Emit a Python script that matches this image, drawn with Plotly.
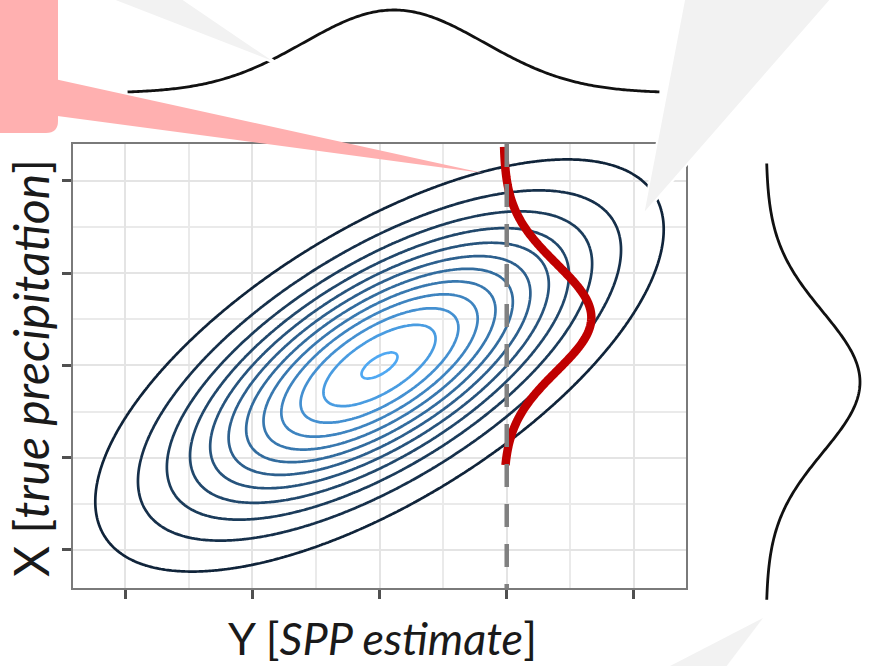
import numpy as np
import plotly.graph_objects as go

W, H = 869, 666

# ---- values ---------------------------------------------------------------
tick_vals = [1, 2, 3, 4, 5]
minor_vals = [1.5, 2.5, 3.5, 4.5]
x_range = [0.591, 5.409]          # Y [SPP estimate]
y_range = [0.588, 5.401]          # X [true precipitation]

# joint density of (Y, X)
mean_y, mean_x = 3.0, 3.0
sd_y, sd_x = 1.0, 1.0
rho = 0.66
level_start, level_step, n_levels = 0.0825, 0.0825, 12   # relative to the peak

# conditional density of X for one observed Y
y_obs = 4.0
cond_base = 3.975
cond_mean, cond_sd, cond_height = 3.52, 0.58, 0.69
cond_lo, cond_hi = 1.92, 5.37

# marginal densities shown beside the panel
top_mean, top_sd, top_lo, top_hi = 3.114, 0.71, 1.02, 5.20
side_mean, side_sd, side_lo, side_hi = 2.82, 0.76, 0.46, 5.19


def gauss(v, m, s):
    return np.exp(-0.5 * ((v - m) / s) ** 2)


def px(x):
    return x / W


def py(y):
    return 1 - y / H


def lin_range(lo_px, hi_px, p0, p1, v0=0.0, v1=1.0):
    """Axis range whose domain spans lo_px..hi_px, with v0 at p0 and v1 at p1."""
    k = (v1 - v0) / (p1 - p0)
    return [v0 + (lo_px - p0) * k, v0 + (hi_px - p0) * k]


fig = go.Figure()

# ---- bivariate density contours -------------------------------------------
gx = np.linspace(x_range[0], x_range[1], 280)
gy = np.linspace(y_range[0], y_range[1], 280)
GX, GY = np.meshgrid(gx, gy)
zy = (GX - mean_y) / sd_y
zx = (GY - mean_x) / sd_x
Q = (zy ** 2 - 2 * rho * zy * zx + zx ** 2) / (1 - rho ** 2)
Z = np.exp(-0.5 * Q)
level_end = level_start + level_step * (n_levels - 1)

fig.add_trace(go.Contour(
    x=gx, y=gy, z=Z,
    autocontour=False,
    contours=dict(start=level_start, end=level_end + 1e-6, size=level_step,
                  coloring="lines"),
    colorscale=[[0, "#10243A"], [1, "#4FA8F2"]],
    zmin=level_start, zmax=level_end,
    line=dict(width=2.7, smoothing=1.2),
    showscale=False, hoverinfo="skip",
))

# ---- conditional density (red) --------------------------------------------
cy = np.linspace(cond_lo, cond_hi, 400)
cx = cond_base + cond_height * gauss(cy, cond_mean, cond_sd)
fig.add_trace(go.Scatter(x=cx, y=cy, mode="lines",
                         line=dict(color="#C00000", width=8.5, simplify=False),
                         hoverinfo="skip", showlegend=False))

# observed Y value
fig.add_trace(go.Scatter(x=[y_obs, y_obs], y=[y_range[1], y_range[0]], mode="lines",
                         line=dict(color="#808080", width=4.5, dash="23px,17px"),
                         hoverinfo="skip", showlegend=False))

# ---- marginal of Y (top) --------------------------------------------------
tx = np.linspace(top_lo, top_hi, 300)
fig.add_trace(go.Scatter(x=tx, y=gauss(tx, top_mean, top_sd), mode="lines",
                         xaxis="x2", yaxis="y2",
                         line=dict(color="#111111", width=2.8, simplify=False),
                         hoverinfo="skip", showlegend=False))

# ---- marginal of X (right) ------------------------------------------------
sy = np.linspace(side_lo, side_hi, 300)
fig.add_trace(go.Scatter(x=gauss(sy, side_mean, side_sd), y=sy, mode="lines",
                         xaxis="x3", yaxis="y3",
                         line=dict(color="#111111", width=2.8, simplify=False),
                         hoverinfo="skip", showlegend=False))

# ---- axes -----------------------------------------------------------------
panel = dict(
    showline=True, mirror=True, linecolor="#7A7A7A", linewidth=2.2,
    ticks="outside", ticklen=9, tickwidth=2.5, tickcolor="#505050",
    tickmode="array", tickvals=tick_vals, showticklabels=False,
    showgrid=True, gridcolor="#E4E4E4", gridwidth=2,
    minor=dict(tickmode="array", tickvals=minor_vals, showgrid=True,
               gridcolor="#EAEAEA", gridwidth=1.8, ticks=""),
    zeroline=False, fixedrange=True,
)
fig.update_layout(
    xaxis=dict(domain=[px(73), px(686)], range=x_range, anchor="y", **panel),
    yaxis=dict(domain=[py(588), py(144)], range=y_range, anchor="x", **panel),
    xaxis2=dict(domain=[px(73), px(686)], range=x_range, anchor="y2", visible=False),
    yaxis2=dict(domain=[py(100), py(2)], range=lin_range(100, 2, 93, 10),
                anchor="x2", visible=False),
    xaxis3=dict(domain=[px(758), px(868)], range=lin_range(758, 868, 766, 860),
                anchor="y3", visible=False),
    yaxis3=dict(domain=[py(605), py(155)],
                range=lin_range(605, 155, 550, 181, 1.0, 5.0),
                anchor="x3", visible=False),
)


# ---- callout shapes -------------------------------------------------------
def poly(points):
    return "M " + " L ".join(f"{px(a):.5f},{py(b):.5f}" for a, b in points) + " Z"


grey = "#F2F2F2"
pink = "#FFB0B0"
r = 12
pink_box = (f"M {px(-30):.5f},{py(-30):.5f} L {px(58):.5f},{py(-30):.5f} "
            f"L {px(58):.5f},{py(133 - r):.5f} "
            f"Q {px(58):.5f},{py(133):.5f} {px(58 - r):.5f},{py(133):.5f} "
            f"L {px(-30):.5f},{py(133):.5f} Z")

fig.update_layout(shapes=[
    dict(type="path", xref="paper", yref="paper", layer="above",
         path=poly([(100, -5), (177, -5), (280, 65)]),
         fillcolor=grey, line=dict(color="white", width=2)),
    dict(type="path", xref="paper", yref="paper", layer="above",
         path=poly([(685, -5), (835, -5), (643, 215)]),
         fillcolor=grey, line=dict(color="white", width=2)),
    dict(type="path", xref="paper", yref="paper", layer="above",
         path=poly([(763, 618), (716, 680), (643, 680)]),
         fillcolor=grey, line=dict(width=0)),
    dict(type="path", xref="paper", yref="paper", layer="above",
         path=poly([(50, 78), (483, 173), (50, 115)]),
         fillcolor=pink, line=dict(width=0)),
    dict(type="path", xref="paper", yref="paper", layer="above",
         path=pink_box, fillcolor=pink, line=dict(width=0)),
])

# ---- axis titles ----------------------------------------------------------
fig.update_layout(annotations=[
    dict(text="Y [<i>SPP estimate</i>]", xref="paper", yref="paper",
         x=px(382), y=py(638), xanchor="center", yanchor="middle",
         showarrow=False, font=dict(family="Lato", size=45, color="#1A1A1A")),
    dict(text="X [<i>true precipitation</i>]", xref="paper", yref="paper",
         x=px(30), y=py(368), xanchor="center", yanchor="middle",
         textangle=-90, showarrow=False,
         font=dict(family="Lato", size=48, color="#1A1A1A")),
])

fig.update_layout(width=W, height=H, margin=dict(l=0, r=0, t=0, b=0),
                  paper_bgcolor="white", plot_bgcolor="white", showlegend=False)

fig.write_html("out.html", config={"displayModeBar": False})
